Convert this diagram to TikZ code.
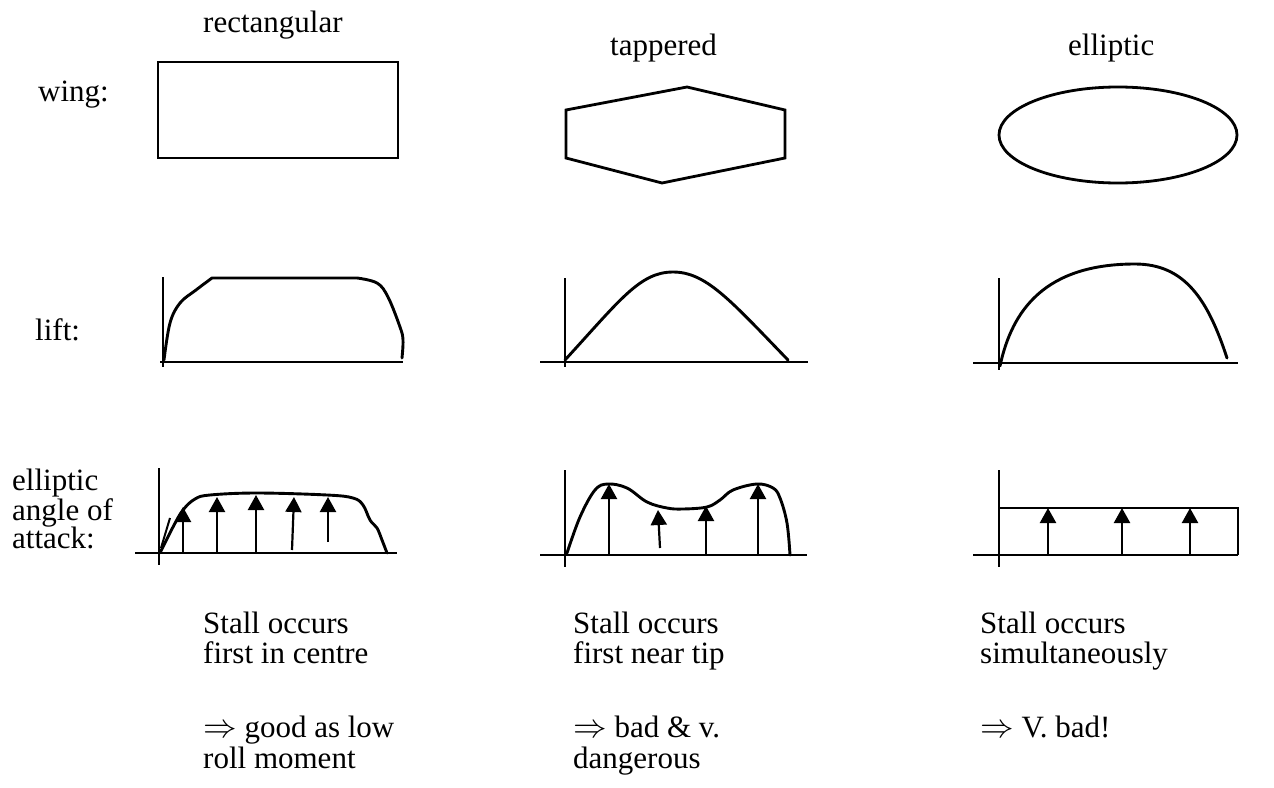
\documentclass[tikz,border=0pt]{standalone}
\usepackage{fontspec}
\setmainfont{Liberation Serif}
\usetikzlibrary{arrows.meta}
\newcommand{\impl}{\scalebox{1.35}{$\Rightarrow$}}
\begin{document}
\begin{tikzpicture}[x=1pt,y=-1pt,
  txt/.style={font=\fontsize{31}{31}\selectfont,inner sep=0pt,anchor=base west},
  outline/.style={line width=2.8pt,line join=miter},
  axis/.style={line width=2.6pt},
  curve/.style={line width=2.9pt,line join=round,line cap=round},
  force/.style={line width=2.2pt,-{Triangle[width=16pt,length=15pt]}}]
\useasboundingbox (0,0) rectangle (1274,787);
% column titles
\node[txt] (t1) at (203,32) {rectangular};
\node[txt] (t2) at (610,55) {tappered};
\node[txt] (t3) at (1068,55) {elliptic};
% row labels
\node[txt] (r1) at (38,101) {wing:};
\node[txt] (r2) at (35,340) {lift:};
\node[txt] (r3a) at (12,490) {elliptic};
\node[txt] (r3b) at (12,520) {angle of};
\node[txt] (r3c) at (12,548) {attack:};
% wings
\draw[outline] (158,62) rectangle (398,158);
\draw[outline] (566,110) -- (687,87) -- (785,110) -- (785,158) -- (662,183) -- (566,158) -- cycle;
\draw[outline] (1118,135) ellipse [x radius=119, y radius=48];
% lift row axes
\draw[axis] (163,277) -- (163,367);
\draw[axis] (160,362) -- (403,362);
\draw[axis] (565,278) -- (565,367);
\draw[axis] (540,362) -- (808,362);
\draw[axis] (999,278) -- (999,370);
\draw[axis] (973,363) -- (1238,363);
% lift curves
\draw[curve] plot[smooth,tension=0.6] coordinates {(164,360) (170,323) (180,303) (196,290) (212,278)}
  -- (357,278) plot[smooth,tension=0.6] coordinates {(357,278) (377,283) (388,297) (400,327) (403,340) (402,358)};
\draw[curve] (565,360) .. controls (620,300) and (640,272) .. (673,272)
  .. controls (706,272) and (730,300) .. (788,360);
\draw[curve] (1000,366) .. controls (1012,310) and (1045,264) .. (1135,264)
  .. controls (1185,264) and (1208,300) .. (1227,358);
% AoA row axes
\draw[axis] (159,468) -- (159,565);
\draw[axis] (135,553) -- (397,553);
\draw[axis] (565,470) -- (565,567);
\draw[axis] (540,555) -- (807,555);
\draw[axis] (999,470) -- (999,567);
\draw[axis] (973,555) -- (1238,555);
% AoA curves
\draw[curve] plot[smooth,tension=0.6] coordinates {(160,553) (173,527) (183,510) (195,499) (210,495) (257,493) (327,495) (353,498) (363,505) (370,520) (377,528) (382,540) (387,553)};
\draw[line width=2pt] (161,548) -- (170,518);
\draw[curve] plot[smooth,tension=0.6] coordinates {(567,553) (580,517) (595,490) (608,484) (627,488) (647,502) (667,508) (683,509) (707,507) (720,500) (733,490) (757,484) (773,488) (780,498) (787,523) (790,555)};
\draw[outline] (999,508) -- (1238,508) -- (1238,555);
% force arrows
\draw[force] (183,553) -- (183,507);
\draw[force] (217,553) -- (217,497);
\draw[force] (256,553) -- (256,495);
\draw[force] (292,550) -- (294,497);
\draw[force] (328,542) -- (328,497);
\draw[force] (609,555) -- (609,484);
\draw[force] (660,548) -- (658,510);
\draw[force] (706,555) -- (706,506);
\draw[force] (758,555) -- (758,484);
\draw[force] (1048,555) -- (1048,508);
\draw[force] (1122,555) -- (1122,508);
\draw[force] (1190,555) -- (1190,508);
% conclusions
\node[txt] (a1) at (203,633) {Stall occurs};
\node[txt] (a2) at (203,663) {first in centre};
\node[txt] (a3) at (203,737) {\impl{} good as low};
\node[txt] (a4) at (203,768) {roll moment};
\node[txt] (b1) at (573,633) {Stall occurs};
\node[txt] (b2) at (573,663) {first near tip};
\node[txt] (b3) at (573,737) {\impl{} bad \& v.};
\node[txt] (b4) at (573,768) {dangerous};
\node[txt] (c1) at (980,633) {Stall occurs};
\node[txt] (c2) at (980,663) {simultaneously};
\node[txt] (c3) at (980,737) {\impl{} V. bad!};
\end{tikzpicture}
\end{document}
